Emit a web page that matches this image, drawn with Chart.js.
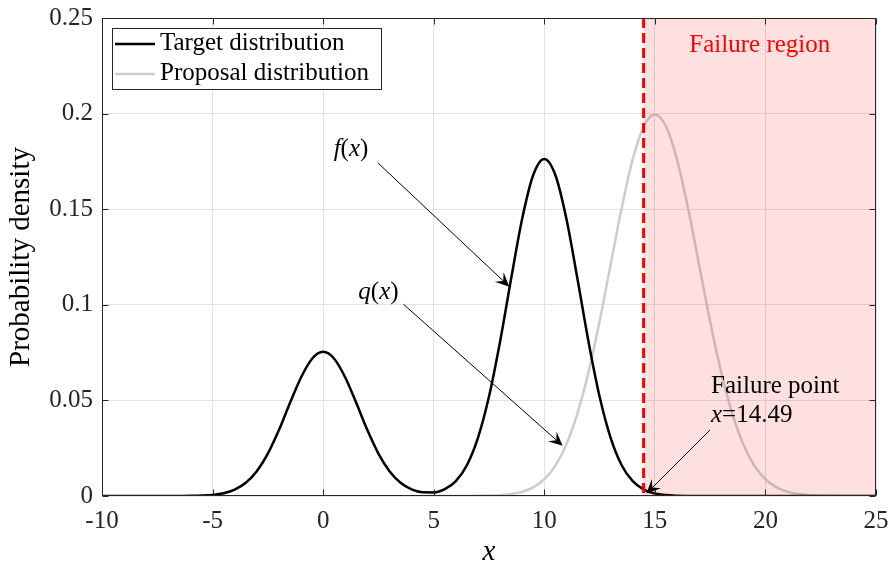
<!DOCTYPE html>
<html>
<head>
<meta charset="utf-8">
<title>Importance sampling densities</title>
<script src="https://cdn.jsdelivr.net/npm/chart.js@4.4.1/dist/chart.umd.min.js"></script>
<style>
  html, body { margin: 0; padding: 0; background: #ffffff; }
  canvas { display: block; }
</style>
</head>
<body>
<canvas id="densityChart" width="891" height="570"></canvas>
<script>
// target f(x): two-bump mixture, sampled every 0.5
const targetX = [
  -10, -9.5, -9, -8.5, -8, -7.5, -7, -6.5, -6, -5.5, -5, -4.5, -4, -3.5, -3, -2.5, -2, -1.5, -1, -0.5,
  0, 0.5, 1, 1.5, 2, 2.5, 3, 3.5, 4, 4.5, 5, 5.5, 6, 6.5, 7, 7.5, 8, 8.5, 9, 9.5,
  10, 10.5, 11, 11.5, 12, 12.5, 13, 13.5, 14, 14.5, 15, 15.5, 16, 16.5, 17, 17.5, 18, 18.5, 19, 19.5,
  20, 20.5, 21, 21.5, 22, 22.5, 23, 23.5, 24, 24.5, 25
];
const targetY = [
  0, 0, 0, 0, 0, 0, 0.000005, 0.00002, 0.000067, 0.00021, 0.00057, 0.00144, 0.00331, 0.00689, 0.0130, 0.0222, 0.0345, 0.0486, 0.0620, 0.0718,
  0.0754, 0.0718, 0.0620, 0.0486, 0.0345, 0.0222, 0.0130, 0.00694, 0.00347, 0.00195, 0.00188, 0.00359, 0.00782, 0.0161, 0.0304, 0.0520, 0.0807, 0.1136, 0.1450, 0.1679,
  0.1763, 0.1679, 0.1450, 0.1136, 0.0807, 0.0520, 0.0304, 0.0161, 0.00775, 0.00338, 0.00133, 0.00048, 0.000156, 0.000046, 0.000012, 0, 0, 0, 0, 0,
  0, 0, 0, 0, 0, 0, 0, 0, 0, 0, 0
];

// proposal q(x), centred near 15
const proposalX = [
  4.5, 5, 5.5, 6, 6.5, 7, 7.5, 8, 8.5, 9, 9.5, 10, 10.5, 11, 11.5, 12, 12.5, 13, 13.5, 14, 14.5,
  15, 15.5, 16, 16.5, 17, 17.5, 18, 18.5, 19, 19.5, 20, 20.5, 21, 21.5, 22, 22.5, 23, 23.5, 24, 24.5, 25
];
const proposalY = [
  0, 0, 0.000002, 0.000008, 0.000024, 0.000067, 0.000176, 0.000437, 0.00102, 0.00222, 0.00455, 0.00876, 0.0159, 0.0270, 0.0432, 0.0648, 0.0913, 0.1210, 0.1506, 0.1761, 0.1934,
  0.1995, 0.1934, 0.1761, 0.1506, 0.1210, 0.0913, 0.0648, 0.0432, 0.0270, 0.0159, 0.00876, 0.00455, 0.00222, 0.00102, 0.000437, 0.000176, 0.000067, 0.000024, 0.000008, 0.000002, 0
];

const xTickValues = [-10, -5, 0, 5, 10, 15, 20, 25];
const xTickLabels = ['-10', '-5', '0', '5', '10', '15', '20', '25'];
const yTickValues = [0, 0.05, 0.1, 0.15, 0.2, 0.25];
const yTickLabels = ['0', '0.05', '0.1', '0.15', '0.2', '0.25'];

const failureX = 14.49;

const FONT = "'Liberation Serif', 'Times New Roman', serif";
const INK = '#262626';
const GRID = '#e2e2e2';

// text bits: i = italic
function richWidth(ctx, parts, size) {
  let w = 0;
  parts.forEach(p => {
    ctx.font = (p.i ? 'italic ' : '') + size + 'px ' + FONT;
    w += ctx.measureText(p.t).width;
  });
  return w;
}

function drawRich(ctx, parts, x, y, size, align, color) {
  let cx = x;
  const w = richWidth(ctx, parts, size);
  if (align === 'center') cx = x - w / 2;
  ctx.textAlign = 'left';
  ctx.textBaseline = 'alphabetic';
  ctx.fillStyle = color;
  parts.forEach(p => {
    ctx.font = (p.i ? 'italic ' : '') + size + 'px ' + FONT;
    ctx.fillText(p.t, cx, y);
    cx += ctx.measureText(p.t).width;
  });
}

function drawArrow(ctx, x0, y0, x1, y1) {
  const len = Math.hypot(x1 - x0, y1 - y0);
  const ux = (x1 - x0) / len, uy = (y1 - y0) / len;
  const nx = -uy, ny = ux;
  const L = 14, W = 6.5;
  ctx.save();
  ctx.strokeStyle = '#000';
  ctx.fillStyle = '#000';
  ctx.lineWidth = 1;
  ctx.beginPath();
  ctx.moveTo(x0, y0);
  ctx.lineTo(x1 - ux * L * 0.6, y1 - uy * L * 0.6);
  ctx.stroke();
  ctx.beginPath();
  ctx.moveTo(x1, y1);
  ctx.lineTo(x1 - ux * L + nx * W, y1 - uy * L + ny * W);
  ctx.lineTo(x1 - ux * L * 0.6, y1 - uy * L * 0.6);
  ctx.lineTo(x1 - ux * L - nx * W, y1 - uy * L - ny * W);
  ctx.closePath();
  ctx.fill();
  ctx.restore();
}

// labels and arrows, in data units
const notes = [
  { parts: [{ t: 'f', i: true }, { t: '(' }, { t: 'x', i: true }, { t: ')' }], x: 1.26, y: 0.1778, align: 'center' },
  { parts: [{ t: 'q', i: true }, { t: '(' }, { t: 'x', i: true }, { t: ')' }], x: 2.5, y: 0.1029, align: 'center' },
  { parts: [{ t: 'Failure point' }], x: 17.54, y: 0.0537, align: 'left' },
  { parts: [{ t: 'x', i: true }, { t: '=14.49' }], x: 17.54, y: 0.0389, align: 'left' }
];
const arrows = [
  { from: [2.47, 0.1743], to: [8.42, 0.1095] },
  { from: [3.63, 0.1003], to: [10.83, 0.0263] },
  { from: [17.49, 0.0345], to: [14.62, 0.0013] }
];

// keep the plot box fixed: no extra room for overhanging tick labels
function fixBox(s, size) {
  if (s.isHorizontal()) s.height = size; else s.width = size;
  s.paddingLeft = 0;
  s.paddingRight = 0;
  s.paddingTop = 0;
  s.paddingBottom = 0;
}

const overlayPlugin = {
  id: 'overlays',
  afterDatasetsDraw(chart) {
    const { ctx, chartArea: area, scales: { x, y } } = chart;
    const fx = x.getPixelForValue(failureX);

    // failure region shading sits over the curves
    ctx.save();
    ctx.fillStyle = 'rgba(255, 0, 0, 0.12)';
    ctx.fillRect(fx, area.top, area.right - fx, area.bottom - area.top);

    ctx.strokeStyle = '#ff0000';
    ctx.lineWidth = 3;
    ctx.setLineDash([10, 5]);
    ctx.beginPath();
    ctx.moveTo(fx, area.top);
    ctx.lineTo(fx, area.bottom);
    ctx.stroke();
    ctx.setLineDash([]);

    drawRich(ctx, [{ t: 'Failure region' }], x.getPixelForValue((failureX + 25) / 2), y.getPixelForValue(0.2322), 25, 'center', '#ff0000');

    notes.forEach(n => {
      drawRich(ctx, n.parts, x.getPixelForValue(n.x), y.getPixelForValue(n.y), 25, n.align, '#000');
    });
    arrows.forEach(a => {
      drawArrow(ctx,
        x.getPixelForValue(a.from[0]), y.getPixelForValue(a.from[1]),
        x.getPixelForValue(a.to[0]), y.getPixelForValue(a.to[1]));
    });
    ctx.restore();
  },
  afterDraw(chart) {
    const { ctx, chartArea: area, scales: { x, y } } = chart;
    const L = Math.round(area.left) + 0.5, R = Math.round(area.right) - 0.5;
    const T = Math.round(area.top) + 0.5, B = Math.round(area.bottom) - 0.5;
    const tick = 6;

    // box and inward ticks on all four sides
    ctx.save();
    ctx.strokeStyle = INK;
    ctx.lineWidth = 1;
    ctx.strokeRect(L, T, R - L, B - T);
    ctx.beginPath();
    xTickValues.forEach(v => {
      const px = Math.round(x.getPixelForValue(v)) + 0.5;
      ctx.moveTo(px, B); ctx.lineTo(px, B - tick);
      ctx.moveTo(px, T); ctx.lineTo(px, T + tick);
    });
    yTickValues.forEach(v => {
      const py = Math.round(y.getPixelForValue(v)) + 0.5;
      ctx.moveTo(L, py); ctx.lineTo(L + tick, py);
      ctx.moveTo(R, py); ctx.lineTo(R - tick, py);
    });
    ctx.stroke();

    // legend box, top-left inside the axes
    const sets = chart.data.datasets;
    const bx = area.left + 10, by = area.top + 10;
    ctx.font = '25px ' + FONT;
    const textW = Math.max(...sets.map(d => ctx.measureText(d.label).width));
    const bw = 48 + textW + 12, bh = 61;
    ctx.fillStyle = '#ffffff';
    ctx.fillRect(bx, by, bw, bh);
    ctx.strokeStyle = INK;
    ctx.strokeRect(Math.round(bx) + 0.5, Math.round(by) + 0.5, Math.round(bw), bh);
    sets.forEach((d, i) => {
      const ry = by + 16 + i * 30;
      ctx.strokeStyle = d.borderColor;
      ctx.lineWidth = d.borderWidth;
      ctx.beginPath();
      ctx.moveTo(bx + 3, ry);
      ctx.lineTo(bx + 43, ry);
      ctx.stroke();
      ctx.fillStyle = '#000';
      ctx.textAlign = 'left';
      ctx.textBaseline = 'alphabetic';
      ctx.fillText(d.label, bx + 48, ry + 6);
    });
    ctx.restore();
  }
};

const ctx = document.getElementById('densityChart').getContext('2d');

const densityChart = new Chart(ctx, {
  type: 'line',
  data: {
    datasets: [
      {
        label: 'Target distribution',
        data: targetX.map((v, i) => ({ x: v, y: targetY[i] })),
        borderColor: '#000000',
        borderWidth: 2.5,
        pointRadius: 0,
        fill: false,
        cubicInterpolationMode: 'monotone'
      },
      {
        label: 'Proposal distribution',
        data: proposalX.map((v, i) => ({ x: v, y: proposalY[i] })),
        borderColor: '#cccccc',
        borderWidth: 2.5,
        pointRadius: 0,
        fill: false,
        cubicInterpolationMode: 'monotone'
      }
    ]
  },
  options: {
    responsive: false,
    animation: false,
    layout: { padding: { top: 18, right: 15, left: 0, bottom: 0 } },
    plugins: {
      legend: { display: false },
      tooltip: { enabled: false }
    },
    scales: {
      x: {
        type: 'linear',
        min: -10,
        max: 25,
        afterBuildTicks: s => { s.ticks = xTickValues.map(v => ({ value: v })); },
        afterFit: s => fixBox(s, 74),
        border: { display: false },
        grid: { color: GRID, lineWidth: 1, drawTicks: false },
        ticks: {
          color: INK,
          padding: 10,
          maxRotation: 0,
          autoSkip: false,
          font: { family: FONT, size: 25 },
          callback: (v, i) => xTickLabels[i]
        },
        title: {
          display: true,
          text: 'x',
          color: '#000',
          font: { family: FONT, size: 29, style: 'italic' },
          padding: { top: 0, bottom: 0 }
        }
      },
      y: {
        type: 'linear',
        min: 0,
        max: 0.25,
        afterBuildTicks: s => { s.ticks = yTickValues.map(v => ({ value: v })); },
        afterFit: s => fixBox(s, 102),
        border: { display: false },
        grid: { color: GRID, lineWidth: 1, drawTicks: false },
        ticks: {
          color: INK,
          padding: 9,
          font: { family: FONT, size: 25 },
          callback: (v, i) => yTickLabels[i]
        },
        title: {
          display: true,
          text: 'Probability density',
          color: '#000',
          font: { family: FONT, size: 29 },
          padding: { top: 4, bottom: 0 }
        }
      }
    }
  },
  plugins: [overlayPlugin]
});
</script>
</body>
</html>
